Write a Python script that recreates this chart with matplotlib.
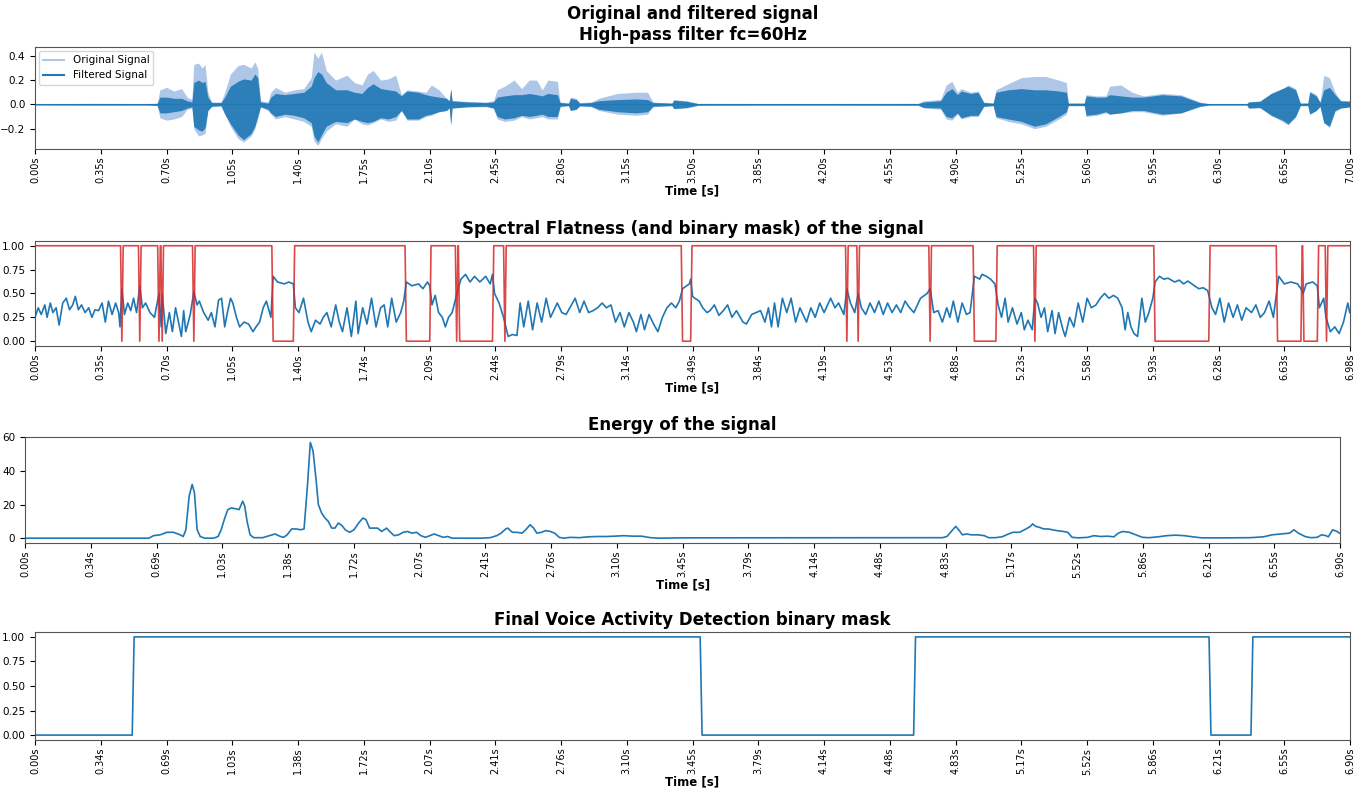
import numpy as np
import matplotlib
matplotlib.use("Agg")
import matplotlib.pyplot as plt
from matplotlib.lines import Line2D

# ---- panel 1 : waveform envelopes ----
t_env = [0.00, 0.30, 0.60, 0.650, 0.665, 0.70, 0.74, 0.78, 0.81, 0.835, 0.845, 0.87, 0.89, 0.905,
         0.92, 0.94, 0.99, 1.01, 1.04, 1.08, 1.11, 1.15, 1.17, 1.185, 1.20, 1.24, 1.255, 1.28, 1.33,
         1.38, 1.43, 1.47, 1.485, 1.505, 1.525, 1.55, 1.60, 1.66, 1.70, 1.74, 1.77, 1.80, 1.84, 1.88,
         1.92, 1.95, 1.98, 2.04, 2.08, 2.11, 2.15, 2.19, 2.205, 2.213, 2.22, 2.30, 2.40, 2.44, 2.46,
         2.50, 2.55, 2.59, 2.63, 2.67, 2.70, 2.73, 2.78, 2.795, 2.84, 2.85, 2.88, 2.90, 2.96, 3.00,
         3.10, 3.20, 3.26, 3.29, 3.39, 3.40, 3.47, 3.53, 4.00, 4.70, 4.73, 4.82, 4.85, 4.88, 4.91,
         4.93, 4.98, 5.02, 5.05, 5.10, 5.115, 5.18, 5.25, 5.32, 5.38, 5.45, 5.49, 5.50, 5.585, 5.595,
         5.65, 5.70, 5.72, 5.78, 5.84, 5.90, 6.00, 6.10, 6.20, 6.25, 6.45, 6.46, 6.52, 6.58, 6.64,
         6.67, 6.71, 6.735, 6.775, 6.785, 6.82, 6.84, 6.86, 6.89, 6.92, 6.95, 7.00]
orig_top = [0.006, 0.008, 0.007, 0.010, 0.12, 0.14, 0.11, 0.13, 0.06, 0.04, 0.33, 0.34, 0.30, 0.33,
            0.10, 0.02, 0.02, 0.10, 0.25, 0.32, 0.33, 0.30, 0.35, 0.30, 0.03, 0.02, 0.10, 0.14, 0.10,
            0.12, 0.13, 0.22, 0.43, 0.38, 0.43, 0.28, 0.20, 0.24, 0.18, 0.16, 0.25, 0.28, 0.20, 0.21,
            0.24, 0.08, 0.12, 0.11, 0.10, 0.16, 0.12, 0.05, 0.03, 0.13, 0.03, 0.025, 0.02, 0.03, 0.12,
            0.15, 0.20, 0.13, 0.20, 0.20, 0.12, 0.20, 0.19, 0.02, 0.01, 0.06, 0.05, 0.015, 0.02, 0.05,
            0.09, 0.10, 0.10, 0.02, 0.01, 0.04, 0.03, 0.008, 0.007, 0.008, 0.03, 0.04, 0.16, 0.19, 0.10,
            0.13, 0.10, 0.11, 0.02, 0.01, 0.12, 0.17, 0.22, 0.23, 0.23, 0.20, 0.18, 0.01, 0.01, 0.08,
            0.07, 0.07, 0.15, 0.16, 0.10, 0.07, 0.09, 0.08, 0.02, 0.006, 0.006, 0.02, 0.03, 0.09, 0.13,
            0.16, 0.13, 0.01, 0.01, 0.11, 0.08, 0.02, 0.24, 0.22, 0.10, 0.03, 0.03]
orig_bot = [-0.006, -0.007, -0.006, -0.010, -0.11, -0.13, -0.12, -0.10, -0.04, -0.03, -0.20, -0.26,
            -0.25, -0.24, -0.05, -0.02, -0.015, -0.08, -0.18, -0.28, -0.31, -0.26, -0.20, -0.12, -0.02,
            -0.05, -0.08, -0.12, -0.10, -0.12, -0.14, -0.18, -0.30, -0.34, -0.28, -0.22, -0.16, -0.18,
            -0.12, -0.16, -0.17, -0.15, -0.12, -0.14, -0.13, -0.05, -0.13, -0.13, -0.10, -0.09, -0.06,
            -0.05, -0.03, -0.17, -0.03, -0.02, -0.02, -0.03, -0.12, -0.14, -0.13, -0.10, -0.12, -0.11,
            -0.10, -0.12, -0.12, -0.02, -0.01, -0.05, -0.04, -0.015, -0.02, -0.05, -0.08, -0.09, -0.08,
            -0.02, -0.01, -0.035, -0.03, -0.008, -0.007, -0.008, -0.03, -0.04, -0.12, -0.13, -0.08,
            -0.12, -0.10, -0.10, -0.02, -0.01, -0.11, -0.14, -0.16, -0.20, -0.18, -0.12, -0.08, -0.01,
            -0.01, -0.10, -0.09, -0.07, -0.08, -0.07, -0.06, -0.06, -0.09, -0.07, -0.02, -0.006, -0.006,
            -0.03, -0.03, -0.09, -0.14, -0.17, -0.10, -0.01, -0.01, -0.08, -0.05, -0.02, -0.15, -0.19,
            -0.06, -0.03, -0.02]
filt_top = [0.004, 0.005, 0.005, 0.008, 0.06, 0.06, 0.05, 0.05, 0.03, 0.02, 0.18, 0.20, 0.18, 0.19,
            0.06, 0.015, 0.015, 0.06, 0.15, 0.19, 0.21, 0.20, 0.25, 0.22, 0.02, 0.01, 0.06, 0.09, 0.08,
            0.09, 0.10, 0.15, 0.22, 0.27, 0.25, 0.18, 0.12, 0.12, 0.10, 0.09, 0.14, 0.17, 0.13, 0.12,
            0.11, 0.07, 0.11, 0.10, 0.08, 0.07, 0.06, 0.05, 0.03, 0.13, 0.03, 0.02, 0.015, 0.02, 0.06,
            0.07, 0.08, 0.08, 0.09, 0.08, 0.07, 0.09, 0.08, 0.015, 0.01, 0.05, 0.04, 0.01, 0.015, 0.03,
            0.04, 0.045, 0.04, 0.015, 0.01, 0.035, 0.025, 0.006, 0.005, 0.006, 0.02, 0.03, 0.10, 0.13,
            0.08, 0.11, 0.09, 0.10, 0.015, 0.01, 0.10, 0.12, 0.13, 0.12, 0.12, 0.11, 0.10, 0.01, 0.01,
            0.07, 0.06, 0.06, 0.08, 0.07, 0.06, 0.06, 0.08, 0.07, 0.015, 0.005, 0.005, 0.02, 0.025, 0.09,
            0.13, 0.15, 0.12, 0.01, 0.01, 0.10, 0.07, 0.015, 0.12, 0.14, 0.08, 0.03, 0.025]
filt_bot = [-0.004, -0.005, -0.005, -0.008, -0.07, -0.07, -0.06, -0.05, -0.03, -0.02, -0.18, -0.21,
            -0.22, -0.19, -0.05, -0.015, -0.01, -0.08, -0.16, -0.25, -0.29, -0.24, -0.18, -0.10, -0.02,
            -0.04, -0.07, -0.10, -0.08, -0.09, -0.11, -0.15, -0.26, -0.31, -0.25, -0.18, -0.14, -0.15,
            -0.12, -0.14, -0.15, -0.14, -0.11, -0.12, -0.10, -0.05, -0.12, -0.12, -0.09, -0.08, -0.06,
            -0.05, -0.03, -0.17, -0.03, -0.02, -0.015, -0.03, -0.10, -0.12, -0.11, -0.09, -0.10, -0.09,
            -0.08, -0.10, -0.10, -0.015, -0.01, -0.05, -0.04, -0.01, -0.015, -0.04, -0.06, -0.07, -0.06,
            -0.015, -0.01, -0.035, -0.025, -0.006, -0.005, -0.006, -0.025, -0.03, -0.10, -0.11, -0.07,
            -0.11, -0.09, -0.09, -0.015, -0.01, -0.10, -0.12, -0.14, -0.18, -0.16, -0.10, -0.06, -0.01,
            -0.01, -0.09, -0.08, -0.06, -0.08, -0.07, -0.05, -0.05, -0.08, -0.07, -0.015, -0.005, -0.005,
            -0.03, -0.025, -0.09, -0.13, -0.16, -0.10, -0.01, -0.01, -0.08, -0.05, -0.015, -0.15, -0.18,
            -0.05, -0.03, -0.02]

# ---- panel 2 : spectral flatness + its mask ----
sf_t = [0.000, 0.017, 0.033, 0.052, 0.064, 0.081, 0.095, 0.112, 0.128, 0.147, 0.166, 0.183, 0.200,
        0.214, 0.230, 0.247, 0.266, 0.285, 0.302, 0.318, 0.337, 0.356, 0.373, 0.390, 0.409, 0.428,
        0.444, 0.451, 0.461, 0.475, 0.492, 0.508, 0.523, 0.539, 0.556, 0.570, 0.587, 0.610, 0.634,
        0.658, 0.670, 0.675, 0.694, 0.713, 0.729, 0.746, 0.777, 0.789, 0.800, 0.824, 0.843, 0.860,
        0.872, 0.895, 0.919, 0.936, 0.955, 0.974, 0.990, 1.007, 1.021, 1.038, 1.050, 1.069, 1.086,
        1.109, 1.133, 1.157, 1.173, 1.192, 1.211, 1.228, 1.252, 1.264, 1.287, 1.323, 1.347, 1.371,
        1.382, 1.401, 1.425, 1.449, 1.466, 1.489, 1.513, 1.530, 1.549, 1.572, 1.596, 1.615, 1.632,
        1.656, 1.679, 1.703, 1.715, 1.739, 1.762, 1.786, 1.810, 1.834, 1.853, 1.872, 1.893, 1.917,
        1.941, 1.957, 1.971, 2.000, 2.036, 2.059, 2.083, 2.095, 2.107, 2.124, 2.142, 2.162, 2.178,
        2.195, 2.214, 2.233, 2.238, 2.261, 2.285, 2.309, 2.333, 2.361, 2.392, 2.416, 2.428, 2.439,
        2.463, 2.487, 2.511, 2.534, 2.558, 2.575, 2.594, 2.618, 2.641, 2.665, 2.689, 2.713, 2.736,
        2.772, 2.796, 2.819, 2.867, 2.891, 2.914, 2.938, 2.962, 2.986, 3.010, 3.033, 3.057, 3.081,
        3.105, 3.128, 3.152, 3.176, 3.192, 3.216, 3.235, 3.259, 3.283, 3.306, 3.330, 3.354, 3.378,
        3.401, 3.420, 3.437, 3.473, 3.480, 3.490, 3.502, 3.525, 3.544, 3.567, 3.583, 3.606, 3.630,
        3.653, 3.676, 3.699, 3.723, 3.758, 3.776, 3.804, 3.827, 3.851, 3.874, 3.893, 3.909, 3.925,
        3.944, 3.967, 3.990, 4.013, 4.037, 4.060, 4.095, 4.118, 4.141, 4.165, 4.188, 4.223, 4.246,
        4.265, 4.293, 4.309, 4.328, 4.351, 4.369, 4.386, 4.409, 4.432, 4.456, 4.479, 4.502, 4.525,
        4.549, 4.572, 4.595, 4.618, 4.642, 4.665, 4.700, 4.735, 4.751, 4.770, 4.793, 4.816, 4.839,
        4.856, 4.874, 4.898, 4.921, 4.944, 4.963, 4.986, 5.014, 5.026, 5.049, 5.072, 5.095, 5.112,
        5.130, 5.149, 5.165, 5.188, 5.212, 5.235, 5.251, 5.270, 5.293, 5.307, 5.321, 5.340, 5.358,
        5.375, 5.398, 5.414, 5.433, 5.456, 5.468, 5.491, 5.514, 5.537, 5.561, 5.584, 5.607, 5.631,
        5.654, 5.677, 5.700, 5.724, 5.747, 5.770, 5.786, 5.800, 5.817, 5.833, 5.852, 5.875, 5.893,
        5.912, 5.933, 5.945, 5.968, 5.991, 6.014, 6.049, 6.073, 6.096, 6.119, 6.154, 6.177, 6.201,
        6.224, 6.247, 6.266, 6.289, 6.312, 6.335, 6.359, 6.382, 6.405, 6.428, 6.457, 6.480, 6.503,
        6.526, 6.550, 6.573, 6.601, 6.631, 6.666, 6.701, 6.719, 6.731, 6.747, 6.782, 6.806, 6.817,
        6.840, 6.852, 6.875, 6.899, 6.922, 6.945, 6.968, 6.978]
sf_v = [0.25, 0.35, 0.28, 0.38, 0.25, 0.40, 0.30, 0.35, 0.17, 0.40, 0.45, 0.33, 0.38, 0.47, 0.33,
        0.38, 0.30, 0.35, 0.25, 0.33, 0.32, 0.40, 0.20, 0.42, 0.28, 0.40, 0.30, 0.15, 0.55, 0.28,
        0.40, 0.32, 0.45, 0.30, 0.58, 0.35, 0.40, 0.30, 0.25, 0.50, 0.15, 0.50, 0.08, 0.30, 0.10,
        0.35, 0.05, 0.32, 0.10, 0.28, 0.52, 0.38, 0.42, 0.30, 0.22, 0.30, 0.15, 0.43, 0.45, 0.15,
        0.30, 0.45, 0.40, 0.25, 0.15, 0.20, 0.18, 0.10, 0.15, 0.20, 0.35, 0.42, 0.25, 0.68, 0.62,
        0.60, 0.62, 0.60, 0.35, 0.30, 0.45, 0.20, 0.10, 0.22, 0.18, 0.25, 0.30, 0.15, 0.38, 0.20,
        0.10, 0.35, 0.05, 0.42, 0.08, 0.35, 0.18, 0.45, 0.15, 0.35, 0.38, 0.15, 0.45, 0.20, 0.30,
        0.42, 0.62, 0.58, 0.60, 0.55, 0.62, 0.58, 0.38, 0.48, 0.30, 0.25, 0.15, 0.25, 0.30, 0.45,
        0.50, 0.65, 0.70, 0.62, 0.68, 0.62, 0.68, 0.60, 0.70, 0.50, 0.40, 0.25, 0.05, 0.07, 0.06,
        0.40, 0.15, 0.42, 0.12, 0.40, 0.20, 0.45, 0.25, 0.40, 0.30, 0.28, 0.45, 0.30, 0.42, 0.30,
        0.32, 0.35, 0.40, 0.35, 0.38, 0.20, 0.30, 0.15, 0.30, 0.20, 0.10, 0.28, 0.12, 0.28, 0.18,
        0.10, 0.25, 0.35, 0.40, 0.35, 0.42, 0.55, 0.60, 0.65, 0.47, 0.45, 0.42, 0.35, 0.30, 0.32,
        0.38, 0.27, 0.32, 0.38, 0.25, 0.32, 0.20, 0.18, 0.28, 0.30, 0.32, 0.20, 0.35, 0.15, 0.40,
        0.15, 0.45, 0.30, 0.45, 0.20, 0.35, 0.20, 0.35, 0.25, 0.40, 0.30, 0.45, 0.35, 0.40, 0.28,
        0.55, 0.40, 0.30, 0.50, 0.35, 0.28, 0.40, 0.30, 0.42, 0.28, 0.40, 0.30, 0.38, 0.30, 0.42,
        0.35, 0.30, 0.45, 0.50, 0.55, 0.30, 0.32, 0.20, 0.35, 0.25, 0.42, 0.20, 0.40, 0.28, 0.30,
        0.68, 0.65, 0.70, 0.68, 0.65, 0.60, 0.38, 0.25, 0.45, 0.20, 0.35, 0.18, 0.30, 0.12, 0.22,
        0.12, 0.45, 0.40, 0.25, 0.35, 0.10, 0.32, 0.08, 0.30, 0.12, 0.05, 0.25, 0.15, 0.40, 0.20,
        0.45, 0.35, 0.38, 0.45, 0.50, 0.45, 0.48, 0.45, 0.35, 0.12, 0.30, 0.15, 0.08, 0.05, 0.45,
        0.20, 0.30, 0.45, 0.62, 0.68, 0.65, 0.66, 0.62, 0.64, 0.60, 0.63, 0.58, 0.55, 0.56, 0.53,
        0.35, 0.28, 0.45, 0.20, 0.40, 0.25, 0.38, 0.22, 0.35, 0.30, 0.38, 0.25, 0.30, 0.42, 0.25,
        0.68, 0.60, 0.62, 0.60, 0.55, 0.50, 0.60, 0.62, 0.58, 0.35, 0.45, 0.25, 0.10, 0.15, 0.08,
        0.20, 0.40, 0.30]
# runs where the flatness mask is 0 (start, end), seconds
mask_off_start = [0.461, 0.556, 0.658, 0.675, 0.843, 1.264, 1.971, 2.238, 2.254, 2.494, 3.437,
                  4.309, 4.369, 4.751, 4.986, 5.307, 5.945, 6.595, 6.735, 6.855]
mask_off_end = [0.461, 0.556, 0.658, 0.675, 0.843, 1.371, 2.095, 2.238, 2.428, 2.494, 3.480,
                4.309, 4.369, 4.751, 5.100, 5.307, 6.230, 6.719, 6.806, 6.855]
sf_end = 6.98

# ---- panel 3 : energy ----
en_t = [0.00, 0.65, 0.674, 0.709, 0.744, 0.779, 0.814, 0.830, 0.844, 0.861, 0.877, 0.889, 0.903,
        0.919, 0.943, 0.990, 1.013, 1.029, 1.048, 1.064, 1.083, 1.106, 1.123, 1.142, 1.153, 1.165,
        1.181, 1.200, 1.247, 1.282, 1.312, 1.340, 1.357, 1.375, 1.399, 1.422, 1.446, 1.464, 1.481,
        1.497, 1.511, 1.527, 1.539, 1.556, 1.574, 1.591, 1.609, 1.626, 1.644, 1.663, 1.680, 1.703,
        1.726, 1.750, 1.773, 1.789, 1.808, 1.832, 1.850, 1.871, 1.897, 1.913, 1.937, 1.960, 1.984,
        2.007, 2.030, 2.054, 2.077, 2.101, 2.124, 2.147, 2.171, 2.194, 2.218, 2.241, 2.393, 2.440,
        2.475, 2.498, 2.522, 2.533, 2.557, 2.580, 2.608, 2.627, 2.650, 2.669, 2.685, 2.709, 2.732,
        2.756, 2.779, 2.803, 2.826, 2.861, 2.908, 2.954, 3.001, 3.048, 3.095, 3.141, 3.188, 3.235,
        3.282, 3.329, 3.446, 4.814, 4.837, 4.860, 4.883, 4.899, 4.918, 4.941, 4.964, 4.999, 5.033,
        5.056, 5.091, 5.126, 5.160, 5.183, 5.218, 5.252, 5.275, 5.287, 5.303, 5.321, 5.345, 5.368,
        5.390, 5.414, 5.448, 5.471, 5.494, 5.529, 5.575, 5.609, 5.644, 5.679, 5.713, 5.736, 5.759,
        5.794, 5.828, 5.863, 5.898, 5.944, 5.990, 6.036, 6.082, 6.128, 6.174, 6.312, 6.428, 6.497,
        6.543, 6.589, 6.635, 6.658, 6.681, 6.716, 6.746, 6.780, 6.803, 6.826, 6.838, 6.861, 6.884,
        6.896]
en_v = [0, 0, 1.5, 2, 3.5, 3.5, 2, 1, 5, 25, 32, 27, 5, 1, 0, 0, 1, 5, 12, 17, 18, 17.5, 17, 22,
        19, 10, 2, 0.3, 0.3, 1.5, 2.5, 1, 0.5, 2, 5.5, 5.5, 5, 5.5, 30, 57, 52, 35, 20, 15, 12, 10,
        6, 6, 9, 7.5, 5, 3.5, 5, 9, 12, 11, 6, 6, 6, 4, 6, 4, 1.5, 2, 3.5, 4, 3, 3.5, 1.5, 0.5, 1.5,
        2.5, 1.5, 0.5, 1, 0, 0, 0.3, 1.5, 3, 5.5, 6, 3.5, 3.5, 3, 5, 8, 6, 3, 3.5, 4.5, 4, 3, 0.5,
        0, 0.5, 0.3, 0.8, 1, 1, 1.2, 1.5, 1.2, 1.2, 0.3, 0, 0.2, 0.3, 1, 4, 7, 5, 2, 2.5, 2, 2, 1.5,
        0.3, 0.3, 0.8, 2.5, 3.5, 3.5, 5.5, 7, 8.5, 7, 6.5, 5.5, 5.5, 5, 4.5, 4, 3.5, 0.5, 0.2, 0.5,
        1.5, 1, 1.2, 0.8, 3, 4, 3.5, 2, 0.5, 0.3, 0.8, 1.5, 1.8, 1.5, 0.8, 0.2, 0.2, 0.3, 0.8, 2, 2.5,
        3, 5, 3, 1, 0.3, 0.5, 2, 1.5, 0.8, 5, 4, 3]

# ---- panel 4 : final VAD mask ----
vad_t = [0.00, 0.51, 0.52, 3.49, 3.50, 4.61, 4.62, 6.16, 6.17, 6.38, 6.39, 6.90]
vad_v = [0, 0, 1, 1, 0, 0, 1, 1, 0, 0, 1, 1]

# tick labels
ticks_700 = ['0.00s', '0.35s', '0.70s', '1.05s', '1.40s', '1.75s', '2.10s', '2.45s', '2.80s', '3.15s',
             '3.50s', '3.85s', '4.20s', '4.55s', '4.90s', '5.25s', '5.60s', '5.95s', '6.30s', '6.65s', '7.00s']
ticks_698 = ['0.00s', '0.35s', '0.70s', '1.05s', '1.40s', '1.74s', '2.09s', '2.44s', '2.79s', '3.14s',
             '3.49s', '3.84s', '4.19s', '4.53s', '4.88s', '5.23s', '5.58s', '5.93s', '6.28s', '6.63s', '6.98s']
ticks_690 = ['0.00s', '0.34s', '0.69s', '1.03s', '1.38s', '1.72s', '2.07s', '2.41s', '2.76s', '3.10s',
             '3.45s', '3.79s', '4.14s', '4.48s', '4.83s', '5.17s', '5.52s', '5.86s', '6.21s', '6.55s', '6.90s']

BLUE = '#1f77b4'
LIGHT = '#aec7e8'
RED = '#d62728'

fig = plt.figure(figsize=(13.68, 7.89), dpi=100)


def style(ax, end, labels, title):
    ax.set_xlim(0, end)
    ax.set_xticks(np.linspace(0, end, len(labels)))
    ax.set_xticklabels(labels, rotation=90, fontsize=7)
    ax.tick_params(axis='y', labelsize=7.5)
    ax.tick_params(axis='x', pad=2)
    ax.set_xlabel('Time [s]', fontsize=8.5, fontweight='bold', labelpad=1)
    ax.set_title(title, fontsize=12, fontweight='bold', pad=5)


# panel 1
ax1 = fig.add_axes([0.0256, 0.8112, 0.9613, 0.1293])
ax1.fill_between(t_env, orig_bot, orig_top, color=LIGHT, lw=0)
ax1.fill_between(t_env, filt_bot, filt_top, color=BLUE, alpha=0.9, lw=0)
ax1.plot([0, 7.0], [0, 0], color=BLUE, lw=0.8)
ax1.set_ylim(-0.367, 0.473)
ax1.set_yticks([-0.2, 0.0, 0.2, 0.4])
style(ax1, 7.0, ticks_700, 'Original and filtered signal\nHigh-pass filter fc=60Hz')
ax1.legend(handles=[Line2D([], [], color=LIGHT, lw=1.5, label='Original Signal'),
                    Line2D([], [], color=BLUE, lw=1.5, label='Filtered Signal')],
           loc='upper left', fontsize=7.5, borderaxespad=0.4)

# panel 2
ax2 = fig.add_axes([0.0256, 0.5615, 0.9613, 0.1331])
ax2.plot(sf_t, sf_v, color=BLUE, lw=1.2)
mt, mv = [0.0], [1.0]
frame = 0.007
for s, e in zip(mask_off_start, mask_off_end):
    mt += [s - frame, s, e, e + frame]
    mv += [1, 0, 0, 1]
mt.append(sf_end)
mv.append(1)
ax2.plot(mt, mv, color=RED, lw=1.2, alpha=0.85)
ax2.set_ylim(-0.05, 1.05)
ax2.set_yticks([0, 0.25, 0.5, 0.75, 1.0])
style(ax2, sf_end, ticks_698, 'Spectral Flatness (and binary mask) of the signal')

# panel 3
ax3 = fig.add_axes([0.0183, 0.3118, 0.9613, 0.1343])
ax3.plot(en_t, en_v, color=BLUE, lw=1.2)
ax3.set_ylim(-2.86, 60.2)
ax3.set_yticks([0, 20, 40, 60])
style(ax3, 6.90, ticks_690, 'Energy of the signal')

# panel 4
ax4 = fig.add_axes([0.0256, 0.0621, 0.9613, 0.1369])
ax4.plot(vad_t, vad_v, color=BLUE, lw=1.2)
ax4.set_ylim(-0.05, 1.05)
ax4.set_yticks([0, 0.25, 0.5, 0.75, 1.0])
style(ax4, 6.90, ticks_690, 'Final Voice Activity Detection binary mask')

for ax in (ax1, ax2, ax3, ax4):
    for sp in ax.spines.values():
        sp.set_color('#555555')

fig.savefig('out.png', dpi=100)
